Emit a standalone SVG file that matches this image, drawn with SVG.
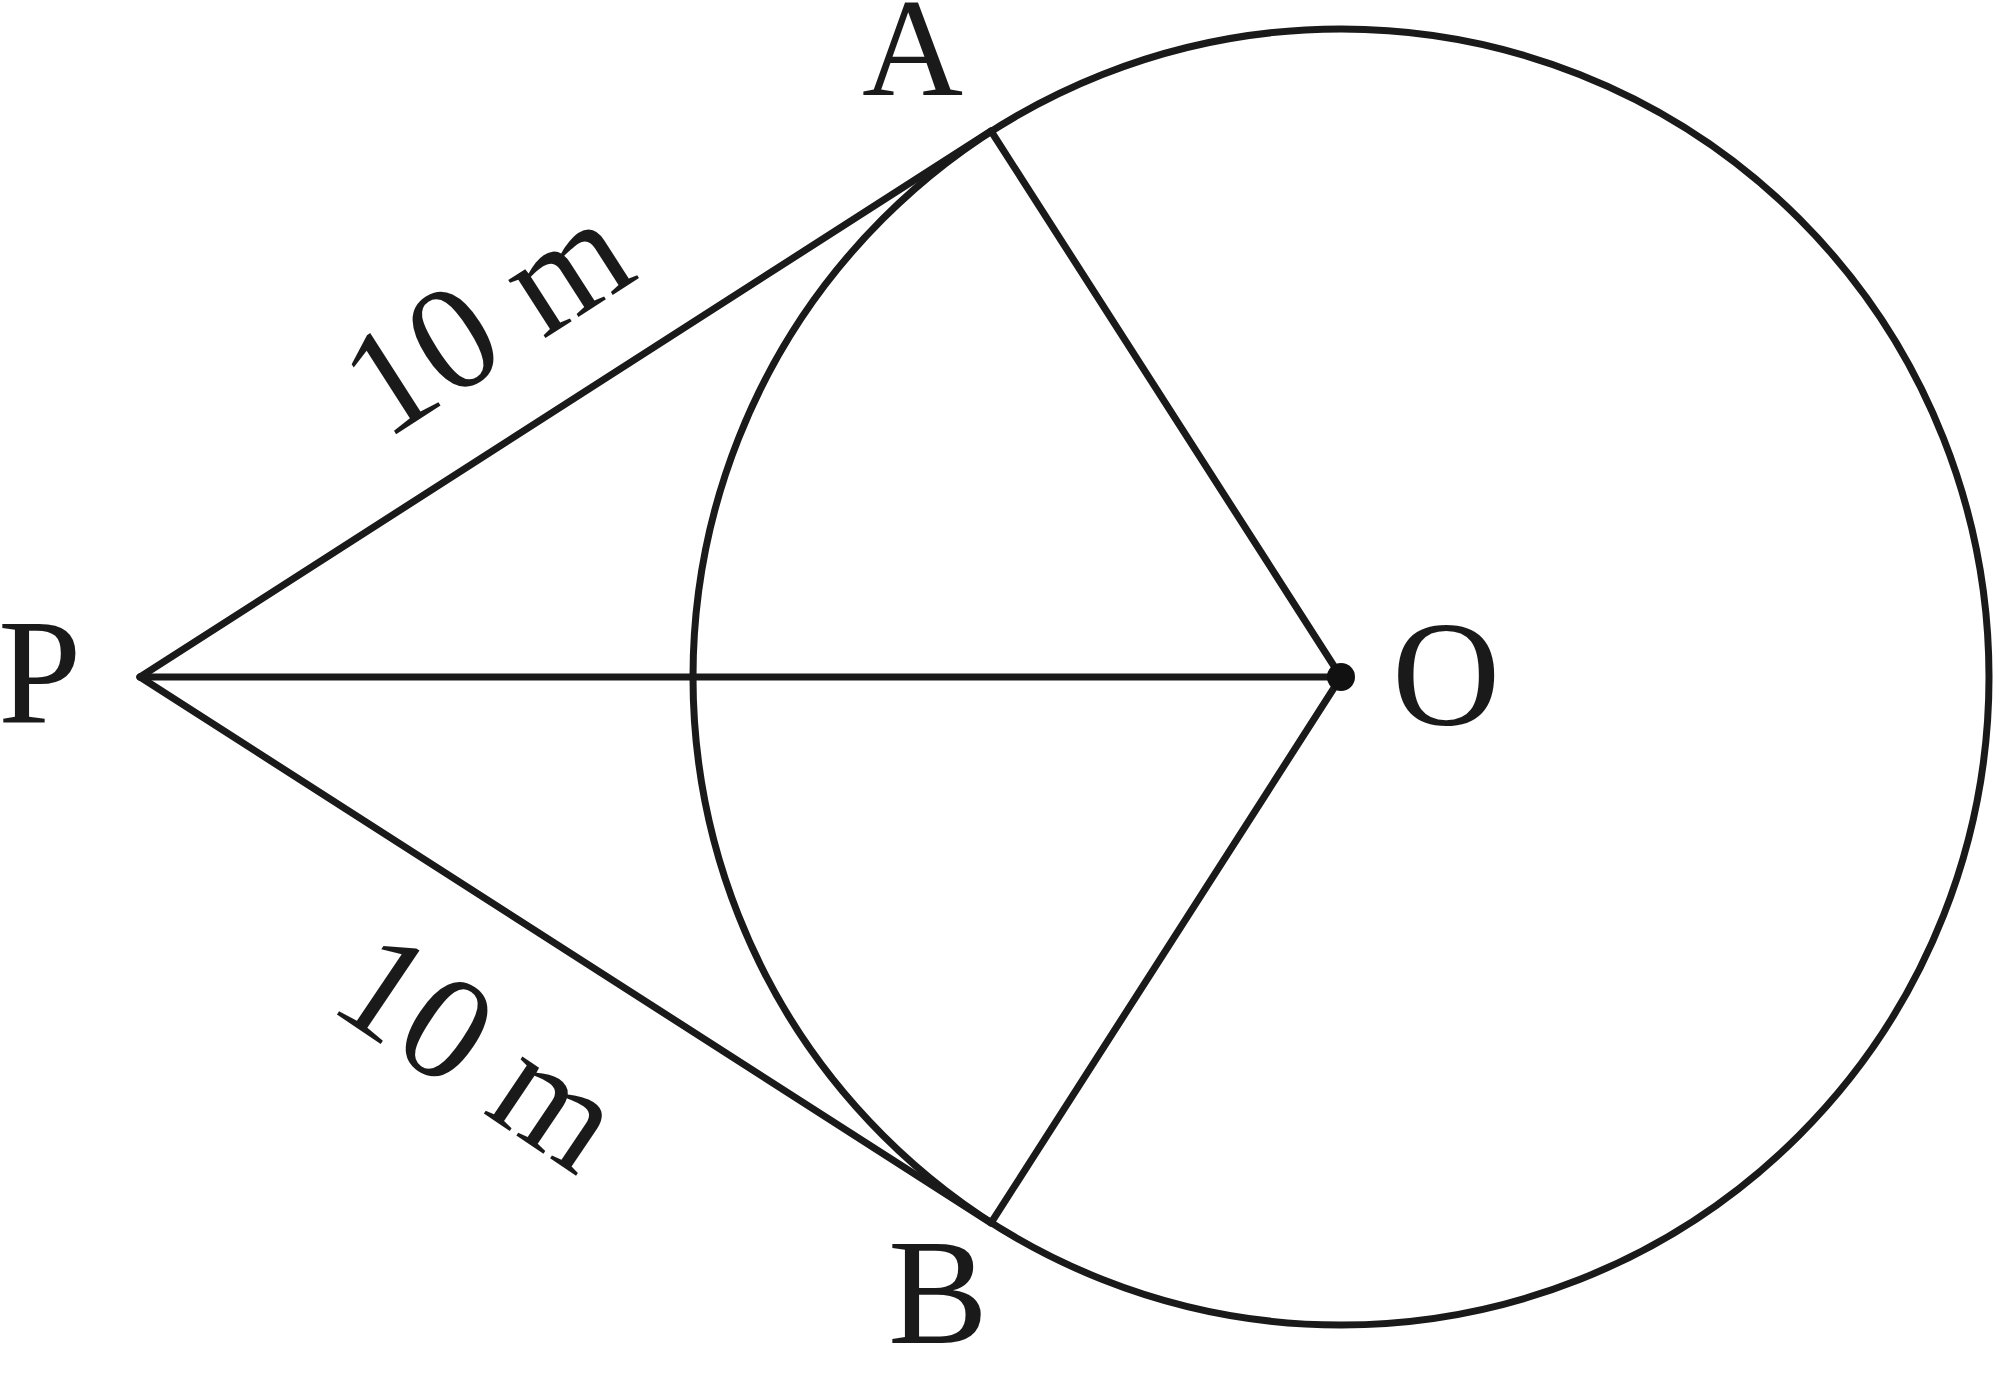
<svg xmlns="http://www.w3.org/2000/svg" width="2000" height="1380" viewBox="0 0 2000 1380">
<style>
.ln{stroke:#1a1a1a;stroke-width:7;fill:none;stroke-linecap:round;stroke-linejoin:round}
.lb{font-family:"Liberation Serif","DejaVu Serif",serif;font-size:150px;fill:#1a1a1a}
</style>
<rect width="2000" height="1380" fill="#ffffff"/>
<g id="circle">
<circle class="ln" cx="1341" cy="677" r="648"/>
</g>
<g id="connectors">
<line class="ln" x1="140" y1="677" x2="991" y2="131"/>
<line class="ln" x1="140" y1="677" x2="991" y2="1223"/>
<line class="ln" x1="140" y1="677" x2="1341" y2="677"/>
<line class="ln" x1="991" y1="131" x2="1341" y2="677"/>
<line class="ln" x1="991" y1="1223" x2="1341" y2="677"/>
</g>
<g id="node-O">
<circle cx="1341" cy="677" r="14" fill="#111"/>
<text class="lb" x="1392" y="725">O</text>
</g>
<g id="node-P"><text class="lb" x="-2" y="723">P</text></g>
<g id="node-A"><text class="lb" x="862" y="95" style="font-size:140px">A</text></g>
<g id="node-B"><text class="lb" x="888" y="1343">B</text></g>
<g id="labels">
<text class="lb" text-anchor="middle" transform="translate(513,359) rotate(-32.7)">10 m</text>
<text class="lb" text-anchor="middle" transform="translate(452,1092) rotate(34)">10 m</text>
</g>
</svg>
